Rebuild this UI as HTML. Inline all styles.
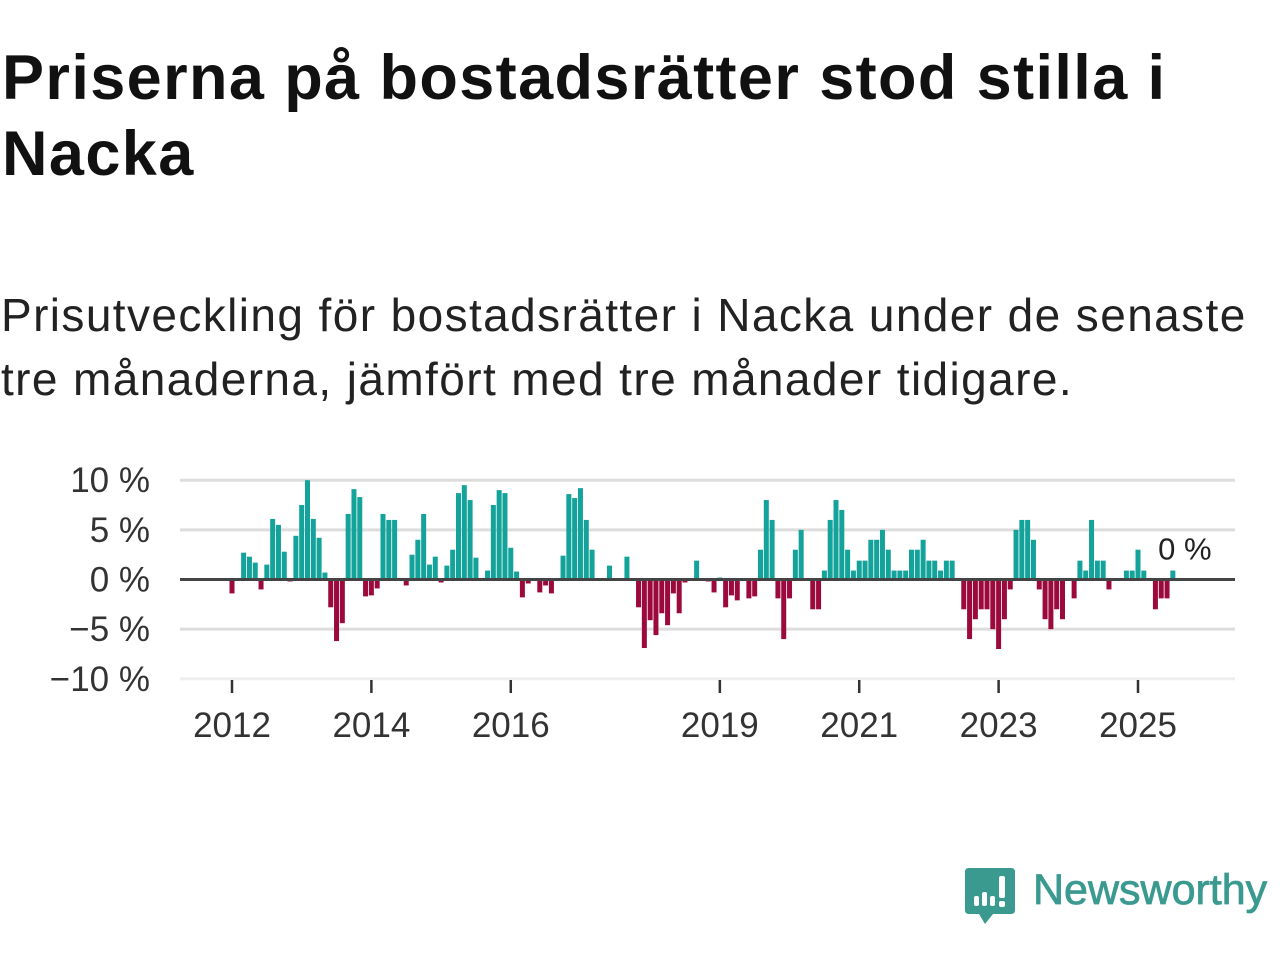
<!DOCTYPE html>
<html><head><meta charset="utf-8">
<style>
html,body{margin:0;padding:0;background:#fff;width:1280px;height:960px;overflow:hidden}
body{font-family:"Liberation Sans","DejaVu Sans",sans-serif;color:#111}
#title{position:absolute;left:2px;top:40px;margin:0;font-size:63px;font-weight:bold;line-height:76px;color:#111;letter-spacing:1.4px}
#subtitle{position:absolute;left:1px;top:283px;margin:0;font-size:46px;line-height:64px;color:#222;font-weight:normal;letter-spacing:1.4px;width:1270px}
#chart{position:absolute;left:0;top:440px}
#logo{position:absolute;left:965px;top:866px}
</style></head>
<body>
<h1 id="title">Priserna på bostadsrätter stod stilla i Nacka</h1>
<p id="subtitle">Prisutveckling för bostadsrätter i Nacka under de senaste tre månaderna, jämfört med tre månader tidigare.</p>
<svg id="chart" width="1280" height="320"></svg>
<svg id="logo" width="315" height="62">
  <path d="M4 2 H46 Q50 2 50 6 V44 Q50 48 46 48 H28 L20 58 L14 48 H4 Q0 48 0 44 V6 Q0 2 4 2 Z" fill="#3a9a90"/>
  <rect x="9" y="30" width="5" height="10" rx="2" fill="#fff"/>
  <rect x="17" y="26" width="5" height="14" rx="2" fill="#fff"/>
  <rect x="25" y="30" width="5" height="10" rx="2" fill="#fff"/>
  <rect x="34" y="10" width="6" height="22" rx="2" fill="#fff"/>
  <rect x="34" y="35" width="6" height="6" rx="2" fill="#fff"/>
  <text x="68" y="38" font-family="Liberation Sans, sans-serif" font-size="43" fill="#3a9a90" stroke="#3a9a90" stroke-width="0.8">Newsworthy</text>
</svg>
<script>
const values = [-1.4,0,2.7,2.3,1.7,-1.0,1.5,6.1,5.5,2.8,
-0.2,4.4,7.5,10,6.1,4.2,0.7,-2.8,-6.2,-4.4,
6.6,9.1,8.3,-1.7,-1.6,-0.9,6.6,6.0,6.0,0,
-0.6,2.5,4.0,6.6,1.5,2.3,-0.3,1.4,3.0,8.7,
9.5,8.0,2.2,0,0.9,7.5,9.0,8.7,3.2,0.8,
-1.8,-0.4,0,-1.3,-0.6,-1.4,0,2.4,8.6,8.2,
9.2,6.0,3.0,0,0,1.4,0,0,2.3,0,
-2.8,-6.9,-4.1,-5.6,-3.4,-4.6,-1.4,-3.4,-0.3,0,
1.9,0,-0.2,-1.3,0.2,-2.8,-1.6,-2.1,0,-1.9,
-1.7,3.0,8.0,6.0,-1.9,-6.0,-1.9,3.0,5.0,0,
-3.0,-3.0,0.9,6.0,8.0,7.0,3.0,0.9,1.9,1.9,
4.0,4.0,5.0,3.0,0.9,0.9,0.9,3.0,3.0,4.0,
1.9,1.9,0.9,1.9,1.9,0,-3.0,-6.0,-4.0,-3.0,
-3.0,-5.0,-7.0,-4.0,-1.0,5.0,6.0,6.0,4.0,-1.0,
-4.0,-5.0,-3.0,-4.0,0,-1.9,1.9,0.9,6.0,1.9,
1.9,-1.0,0,0,0.9,0.9,3.0,0.9,0,-3.0,
-1.9,-1.9,0.9];
const startYear = 2012;
const yTicks = [10,5,0,-5,-10];
const yTickLabels = ["10 %","5 %","0 %","\u22125 %","\u221210 %"];
const xTickYears = [2012,2014,2016,2019,2021,2023,2025];
const lastLabel = "0 %";

const NS = "http://www.w3.org/2000/svg";
const svg = document.getElementById('chart');
const OY = 440;
const x0 = 232, monthW = (1138-232)/156;
const xScale = i => x0 + i*monthW;
const yScale = v => (579.5 - OY) - v*9.93;
function mk(tag, attrs){const e=document.createElementNS(NS,tag);for(const k in attrs)e.setAttribute(k,attrs[k]);svg.appendChild(e);return e;}

yTicks.forEach((t,k)=>{
  const g = mk('line',{x1:180,x2:1235,y1:yScale(t),y2:yScale(t),stroke: t===-10?'#eee':'#ddd','stroke-width':3});
  
  
  const tx = mk('text',{x:150,y:yScale(t)+12,'text-anchor':'end','font-size':35,fill:'#333','font-family':'Liberation Sans, DejaVu Sans, sans-serif'});
  tx.textContent = yTickLabels[k];
  
  
});

values.forEach((v,i)=>{
  if(v===0) return;
  const y = v>0 ? yScale(v) : yScale(0);
  const h = Math.abs(yScale(v)-yScale(0));
  const r = mk('rect',{x:xScale(i)-2.5,y:y,width:5,height:h,fill: v>0?'#13a39a':'#9c0a3d'});
  
  
});

const zl = mk('line',{x1:180,x2:1235,y1:yScale(0),y2:yScale(0),stroke:'#444','stroke-width':3});



xTickYears.forEach(yr=>{
  const xx = xScale((yr-startYear)*12);
  const tk = mk('line',{x1:xx,x2:xx,y1:240,y2:253,stroke:'#333','stroke-width':2.5});
  
  
  const tx = mk('text',{x:xx,y:297,'text-anchor':'middle','font-size':35,fill:'#333','font-family':'Liberation Sans, DejaVu Sans, sans-serif'});
  tx.textContent = yr;
  
  
});

const lastI = values.length-1;
const ll = mk('text',{x:xScale(lastI)+12,y:yScale(values[lastI])-11,'text-anchor':'middle','font-size':31,fill:'#222',stroke:'#fff','stroke-width':6,'paint-order':'stroke','font-family':'Liberation Sans, DejaVu Sans, sans-serif'});
ll.textContent = lastLabel;


</script>
</body></html>
